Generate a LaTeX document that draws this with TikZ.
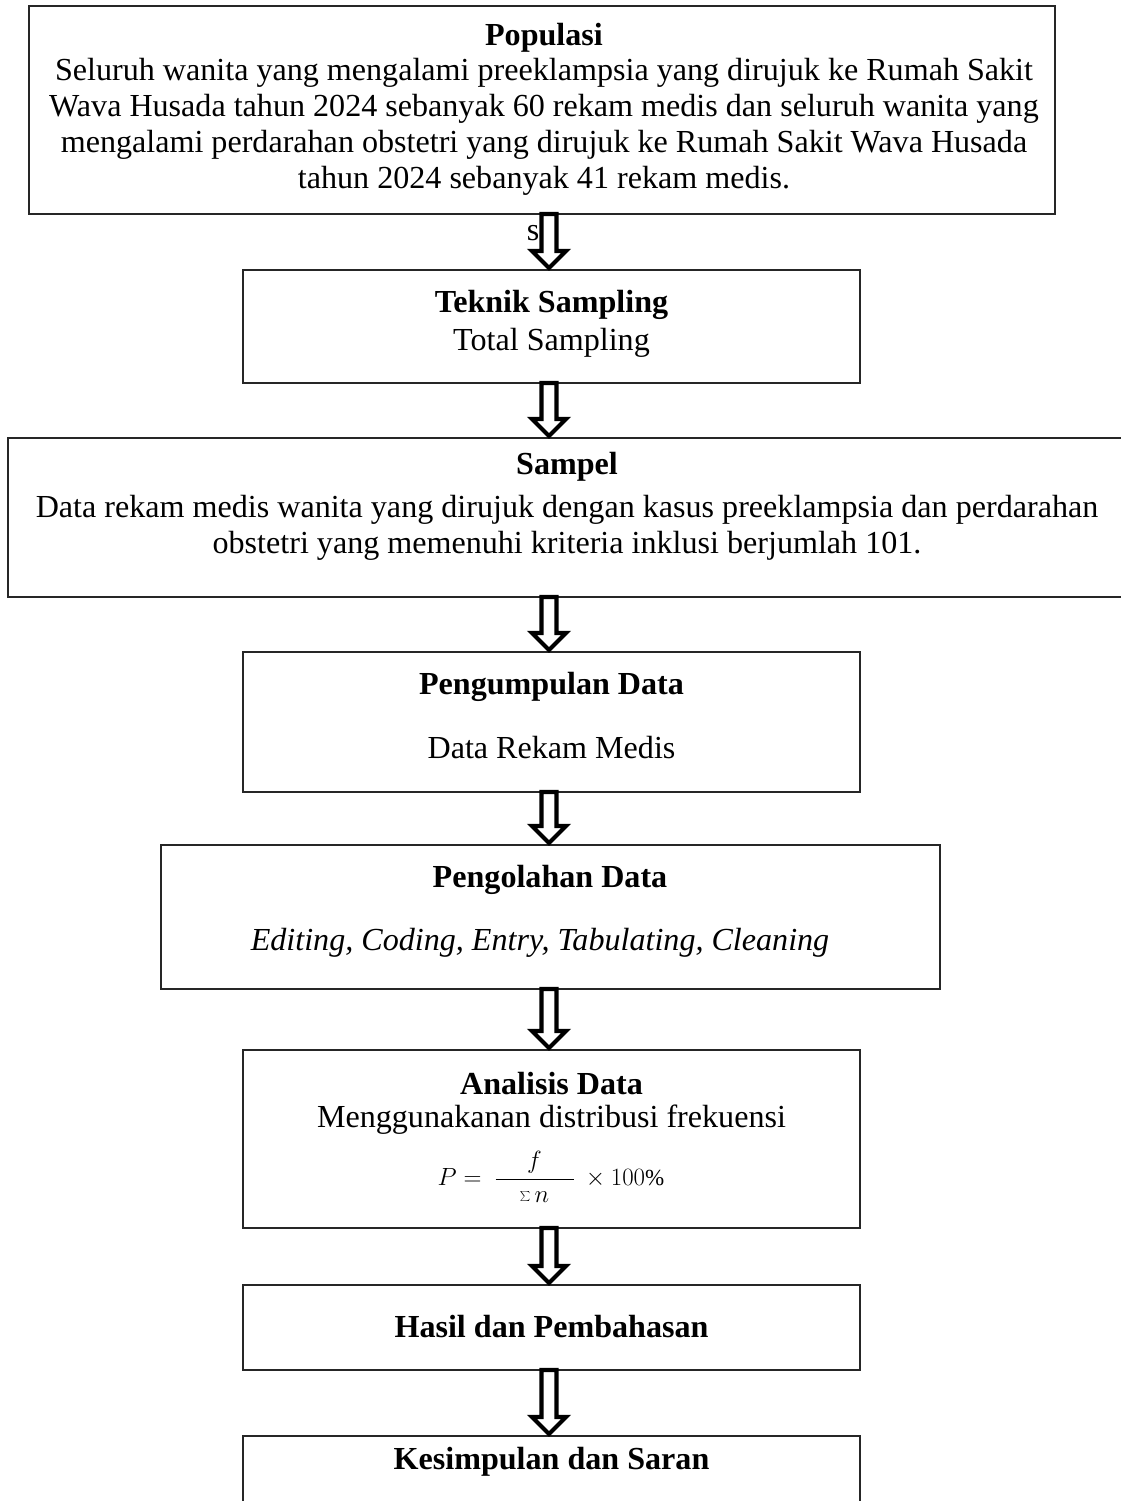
\documentclass[tikz,border=0pt]{standalone}
\usepackage{fontspec}
\setmainfont{Liberation Serif}
\usetikzlibrary{calc}

% hollow block arrow between two boxes, on the common axis
\newcommand{\hollowarrow}[2]{%
  \draw[arrow_style] ($(axis |- #1.south)+(-7.5pt,0)$) -- ($(axis |- #2.north)+(-7.5pt,19pt)$)
    -- ($(axis |- #2.north)+(-17pt,19pt)$) -- ($(axis |- #2.north)+(0,2pt)$)
    -- ($(axis |- #2.north)+(17pt,19pt)$) -- ($(axis |- #2.north)+(7.5pt,19pt)$)
    -- ($(axis |- #1.south)+(7.5pt,0)$) -- cycle;}

\begin{document}
\begin{tikzpicture}[x=1pt,y=-1pt,
box_style/.style={rectangle,draw=black!85,line width=1.6pt,inner sep=0pt,outer sep=0pt},
title_style/.style={font=\fontsize{32.1}{37}\selectfont\bfseries,inner sep=0pt},
body_style/.style={font=\fontsize{32.1}{36}\selectfont,align=center,inner sep=0pt},
arrow_style/.style={draw=black,fill=white,line width=4.2pt,line join=miter}]
\useasboundingbox (0,0) rectangle (1120,1501);
\coordinate (axis) at (549,0);

% boxes
\node[box_style,minimum width=1026pt,minimum height=208pt] (populasi) at (542,110) {};
\node[box_style,minimum width=617pt,minimum height=113pt] (teknik) at (551.5,326.5) {};
\node[box_style,minimum width=1122pt,minimum height=159pt] (sampel) at (569,517.5) {};
\node[box_style,minimum width=617pt,minimum height=140pt] (pengumpulan) at (551.5,722) {};
\node[box_style,minimum width=779pt,minimum height=144pt] (pengolahan) at (550.5,917) {};
\node[box_style,minimum width=617pt,minimum height=178pt] (analisis) at (551.5,1139) {};
\node[box_style,minimum width=617pt,minimum height=85pt] (hasil) at (551.5,1327.5) {};
\node[box_style,minimum width=617pt,minimum height=94pt] (kesimpulan) at (551.5,1483) {};

% texts
\node[title_style] (populasi_title) at (544,38) {Populasi};
\node[body_style] (populasi_text) at (544,127) {Seluruh wanita yang mengalami preeklampsia yang dirujuk ke Rumah Sakit\\
Wava Husada tahun 2024 sebanyak 60 rekam medis dan seluruh wanita yang\\
mengalami perdarahan obstetri yang dirujuk ke Rumah Sakit Wava Husada\\
tahun 2024 sebanyak 41 rekam medis.};
\node[body_style] (stray_s) at (533,233) {s};
\node[title_style] (teknik_title) at (551.5,305) {Teknik Sampling};
\node[body_style] (teknik_text) at (551.5,343) {Total Sampling};
\node[title_style] (sampel_title) at (567,467) {Sampel};
\node[body_style] (sampel_text) at (567,528) {Data rekam medis wanita yang dirujuk dengan kasus preeklampsia dan perdarahan\\
obstetri yang memenuhi kriteria inklusi berjumlah 101.};
\node[title_style] (pengumpulan_title) at (551.5,687) {Pengumpulan Data};
\node[body_style] (pengumpulan_text) at (551.5,748) {Data Rekam Medis};
\node[title_style] (pengolahan_title) at (550,880) {Pengolahan Data};
\node[body_style] (pengolahan_text) at (540,943) {\itshape Editing, Coding, Entry, Tabulating, Cleaning};
\node[title_style] (analisis_title) at (551.5,1084) {Analisis Data};
\node[body_style] (analisis_text) at (551.5,1120) {Menggunakanan distribusi frekuensi};
\node[body_style,font=\fontsize{23}{27}\selectfont] (analisis_formula) at (551,1177)
  {$\displaystyle P=\ \frac{f}{\hbox to 78pt{\hfil$\sum n$\hfil}}\ \times 100\%$};
\node[title_style] (hasil_title) at (551.5,1327) {Hasil dan Pembahasan};
\node[title_style] (kesimpulan_title) at (551.5,1462) {Kesimpulan dan Saran};

% arrows
\hollowarrow{populasi}{teknik}
\hollowarrow{teknik}{sampel}
\hollowarrow{sampel}{pengumpulan}
\hollowarrow{pengumpulan}{pengolahan}
\hollowarrow{pengolahan}{analisis}
\hollowarrow{analisis}{hasil}
\hollowarrow{hasil}{kesimpulan}
\end{tikzpicture}
\end{document}
